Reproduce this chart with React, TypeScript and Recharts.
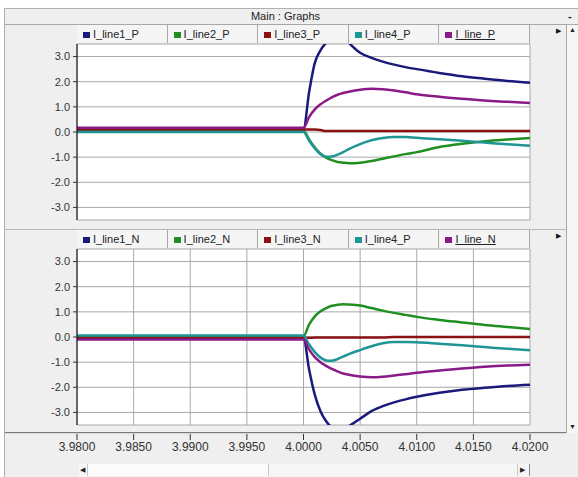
import React from 'react';
import { LineChart, Line, XAxis, YAxis, CartesianGrid } from 'recharts';

const time = [3.98, 3.99, 4.0, 4.0005, 4.001, 4.0015, 4.002, 4.0025, 4.003, 4.0035, 4.004, 4.005, 4.006, 4.007, 4.008, 4.009, 4.01, 4.012, 4.014, 4.016, 4.018, 4.02];

const line1P = [0.12, 0.12, 0.12, 1.6, 2.75, 3.25, 3.55, 3.75, 3.85, 3.8, 3.55, 3.15, 2.95, 2.8, 2.68, 2.58, 2.5, 2.35, 2.22, 2.12, 2.03, 1.96];
const line2P = [0.05, 0.05, 0.05, -0.3, -0.62, -0.86, -1.02, -1.12, -1.19, -1.22, -1.24, -1.22, -1.15, -1.06, -0.97, -0.88, -0.8, -0.6, -0.47, -0.37, -0.3, -0.24];
const line3P = [0.1, 0.1, 0.1, 0.1, 0.1, 0.08, 0.04, 0.04, 0.04, 0.04, 0.04, 0.04, 0.04, 0.04, 0.04, 0.04, 0.04, 0.04, 0.04, 0.04, 0.04, 0.04];
const line4P = [0.0, 0.0, 0.0, -0.35, -0.65, -0.88, -0.98, -0.97, -0.9, -0.8, -0.68, -0.48, -0.33, -0.24, -0.2, -0.2, -0.23, -0.29, -0.35, -0.42, -0.49, -0.55];
const lineP = [0.17, 0.17, 0.17, 0.6, 0.9, 1.1, 1.25, 1.38, 1.48, 1.55, 1.6, 1.68, 1.72, 1.7, 1.65, 1.58, 1.5, 1.4, 1.32, 1.25, 1.2, 1.15];

const line1N = [-0.05, -0.05, -0.05, -1.3, -2.3, -2.95, -3.35, -3.6, -3.72, -3.7, -3.55, -3.25, -2.95, -2.75, -2.6, -2.48, -2.38, -2.22, -2.1, -2.02, -1.95, -1.9];
const line2N = [0.03, 0.03, 0.03, 0.5, 0.82, 1.02, 1.15, 1.24, 1.28, 1.3, 1.29, 1.25, 1.15, 1.05, 0.96, 0.88, 0.8, 0.68, 0.58, 0.48, 0.4, 0.32];
const line3N = [-0.03, -0.03, -0.03, -0.03, -0.02, -0.02, -0.02, -0.02, -0.02, -0.02, -0.02, -0.02, -0.02, -0.02, 0.0, 0.0, 0.0, 0.0, 0.0, 0.0, 0.0, 0.0];
const line4N = [0.06, 0.06, 0.06, -0.3, -0.6, -0.82, -0.93, -0.94, -0.88, -0.78, -0.68, -0.52, -0.37, -0.25, -0.2, -0.2, -0.21, -0.27, -0.33, -0.4, -0.47, -0.53];
const lineN = [-0.1, -0.1, -0.1, -0.5, -0.8, -1.0, -1.15, -1.27, -1.37, -1.45, -1.5, -1.57, -1.6, -1.58, -1.53, -1.48, -1.42, -1.33, -1.25, -1.18, -1.13, -1.1];

const xTicks = [3.98, 3.985, 3.99, 3.995, 4.0, 4.005, 4.01, 4.015, 4.02];
const yTicks = [-3, -2, -1, 0, 1, 2, 3];

const topNames = ['I_line1_P', 'I_line2_P', 'I_line3_P', 'I_line4_P', 'I_line_P'];
const bottomNames = ['I_line1_N', 'I_line2_N', 'I_line3_N', 'I_line4_P', 'I_line_N'];
const colors = ['#1a1a7a', '#1f8f22', '#8b1212', '#1f9595', '#8a1a88'];

const topData = time.map((t, i) => ({ t, s0: line1P[i], s1: line2P[i], s2: line3P[i], s3: line4P[i], s4: lineP[i] }));
const bottomData = time.map((t, i) => ({ t, s0: line1N[i], s1: line2N[i], s2: line3N[i], s3: line4N[i], s4: lineN[i] }));

const FONT = '"Liberation Sans", Arial, sans-serif';

const XTick = (props: any) => {
  const { x, y, payload } = props;
  return (
    <g>
      <line x1={x} x2={x} y1={y + 9} y2={y + 15} stroke="#333" strokeWidth={1} />
      <text x={x} y={y + 26} textAnchor="middle" fontSize={12} fill="#333" fontFamily={FONT}>
        {Number(payload.value).toFixed(4)}
      </text>
    </g>
  );
};

const Tabs = ({ names, top }: { names: string[]; top: number }) => {
  const w = (530 - 77) / names.length;
  return (
    <>
      {names.map((n, i) => (
        <div
          key={n + i}
          style={{
            position: 'absolute',
            left: 77 + i * w,
            top,
            width: w - 1,
            height: 18,
            borderRight: '1px solid #a8a8a8',
            background: '#f5f5f5',
            fontSize: 11,
            lineHeight: '19px',
            color: '#222',
            whiteSpace: 'nowrap',
          }}
        >
          <span style={{ position: 'absolute', left: 6, top: 7, width: 7, height: 6, background: colors[i] }} />
          <span style={{ position: 'absolute', left: 16, top: 0, textDecoration: i === names.length - 1 ? 'underline' : 'none' }}>{n}</span>
        </div>
      ))}
    </>
  );
};

const Panel = ({ data, showX }: { data: any[]; showX: boolean }) => (
  <LineChart
    width={578}
    height={showX ? 247 : 230}
    data={data}
    margin={showX ? { top: 19, right: 48, bottom: 22, left: 0 } : { top: 44, right: 48, bottom: 10, left: 0 }}
  >
    <CartesianGrid stroke="#a8a8a8" fill="#ffffff" fillOpacity={1} />
    <XAxis
      dataKey="t"
      type="number"
      domain={[3.98, 4.02]}
      ticks={xTicks}
      hide={!showX}
      height={30}
      axisLine={false}
      tickLine={false}
      tickSize={0}
      tickMargin={0}
      tick={showX ? (p: any) => <XTick {...p} /> : false}
      allowDataOverflow
      interval={0}
    />
    <YAxis
      type="number"
      domain={[-3.5, 3.5]}
      ticks={yTicks}
      width={77}
      allowDataOverflow
      axisLine={{ stroke: '#000', strokeWidth: 1 }}
      tickLine={{ stroke: '#333' }}
      tickSize={4}
      tickMargin={3}
      tick={{ fontSize: 11, fill: '#333', fontFamily: FONT }}
      tickFormatter={(v: number) => v.toFixed(1)}
      interval={0}
    />
    {[0, 1, 2, 3, 4].map((k) => (
      <Line
        key={k}
        type="monotone"
        dataKey={'s' + k}
        stroke={colors[k]}
        strokeWidth={2.5}
        dot={false}
        isAnimationActive={false}
      />
    ))}
  </LineChart>
);

export default function App() {
  return (
    <div style={{ position: 'absolute', left: 0, top: 0, width: 578, height: 477, background: '#ffffff', overflow: 'hidden', fontFamily: FONT }}>
      {/* window */}
      <div style={{ position: 'absolute', left: 4, top: 8, width: 574, height: 469, background: '#efefef', borderLeft: '1px solid #b0b0b0', borderTop: '1px solid #b0b0b0' }} />
      {/* title bar */}
      <div style={{ position: 'absolute', left: 5, top: 9, width: 561, height: 15, textAlign: 'center', fontSize: 11, lineHeight: '15px', color: '#222' }}>Main : Graphs</div>
      <div style={{ position: 'absolute', left: 5, top: 24, width: 573, height: 1, background: '#a8a8a8' }} />
      <div style={{ position: 'absolute', left: 568, top: 9, width: 10, height: 14, fontSize: 11, lineHeight: '14px', color: '#222', fontWeight: 'bold' }}>-</div>
      {/* second panel top line */}
      <div style={{ position: 'absolute', left: 5, top: 229, width: 561, height: 1, background: '#b8b8b8' }} />

      <Tabs names={topNames} top={25} />
      <Tabs names={bottomNames} top={230} />

      <div style={{ position: 'absolute', left: 0, top: 0 }}>
        <Panel data={topData} showX={false} />
      </div>
      <div style={{ position: 'absolute', left: 0, top: 230 }}>
        <Panel data={bottomData} showX={true} />
      </div>

      {/* bottom separator */}
      <div style={{ position: 'absolute', left: 5, top: 432, width: 561, height: 1, background: '#7a7a7a' }} />
      <div style={{ position: 'absolute', left: 5, top: 433, width: 561, height: 1, background: '#d8d8d8' }} />

      {/* right scrollbar */}
      <div style={{ position: 'absolute', left: 566, top: 25, width: 12, height: 408, background: '#f6f6f6', borderLeft: '1px solid #a8a8a8' }} />
      <div style={{ position: 'absolute', left: 569, top: 26, fontSize: 7, color: '#222' }}>▲</div>
      <div style={{ position: 'absolute', left: 569, top: 423, fontSize: 7, color: '#222' }}>▼</div>
      <div style={{ position: 'absolute', left: 556, top: 27, fontSize: 7, color: '#111' }}>▶</div>
      <div style={{ position: 'absolute', left: 556, top: 232, fontSize: 7, color: '#111' }}>▶</div>

      {/* horizontal scrollbar */}
      <div style={{ position: 'absolute', left: 79, top: 464, width: 450, height: 13, background: '#f6f6f6' }} />
      <div style={{ position: 'absolute', left: 80, top: 466, fontSize: 7, color: '#222' }}>◀</div>
      <div style={{ position: 'absolute', left: 87, top: 464, width: 180, height: 12, background: '#fbfbfb', borderLeft: '1px solid #c8c8c8', borderRight: '1px solid #c8c8c8' }} />
      <div style={{ position: 'absolute', left: 517, top: 464, width: 11, height: 12, borderLeft: '1px solid #c8c8c8', borderRight: '1px solid #888' }} />
      <div style={{ position: 'absolute', left: 520, top: 466, fontSize: 7, color: '#222' }}>▶</div>
    </div>
  );
}
